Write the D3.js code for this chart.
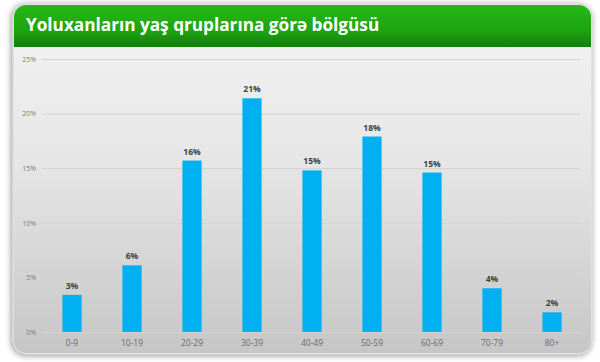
<!DOCTYPE html>
<html>
<head>
<meta charset="utf-8">
<script src="https://cdn.jsdelivr.net/npm/d3@7"></script>
<style>
body { margin: 0; background: #fff; }
svg { display: block; }
</style>
</head>
<body>
<svg id="chart" width="600" height="362"></svg>
<script>
var title = 'Yoluxanların yaş qruplarına görə bölgüsü';
var age_groups = ['0-9', '10-19', '20-29', '30-39', '40-49', '50-59', '60-69', '70-79', '80+'];
var shares = [3.4, 6.1, 15.7, 21.4, 14.8, 17.9, 14.6, 4.0, 1.8];
var share_labels = ['3%', '6%', '16%', '21%', '15%', '18%', '15%', '4%', '2%'];
var y_ticks = [0, 5, 10, 15, 20, 25];

var svg = d3.select('#chart');
var defs = svg.append('defs');

var shadow = defs.append('filter').attr('id', 'shadow')
	.attr('x', '-10%').attr('y', '-10%').attr('width', '120%').attr('height', '120%');
shadow.append('feGaussianBlur').attr('in', 'SourceAlpha').attr('stdDeviation', 3);
shadow.append('feOffset').attr('dx', -1).attr('dy', 1).attr('result', 'blur');
shadow.append('feComponentTransfer').append('feFuncA').attr('type', 'linear').attr('slope', 0.45);
var merge = shadow.append('feMerge');
merge.append('feMergeNode');
merge.append('feMergeNode').attr('in', 'SourceGraphic');

var bg = defs.append('linearGradient').attr('id', 'bg').attr('x1', 0).attr('y1', 0).attr('x2', 0).attr('y2', 1);
bg.append('stop').attr('offset', '0%').attr('stop-color', '#f4f4f4');
bg.append('stop').attr('offset', '45%').attr('stop-color', '#e6e6e6');
bg.append('stop').attr('offset', '100%').attr('stop-color', '#c6c6c6');

var head = defs.append('linearGradient').attr('id', 'head').attr('x1', 0).attr('y1', 0).attr('x2', 0).attr('y2', 1);
head.append('stop').attr('offset', '0%').attr('stop-color', '#27b815');
head.append('stop').attr('offset', '60%').attr('stop-color', '#1ea511');
head.append('stop').attr('offset', '100%').attr('stop-color', '#137f0b');

defs.append('clipPath').attr('id', 'panel_clip')
	.append('rect').attr('x', 14).attr('y', 5).attr('width', 577).attr('height', 348).attr('rx', 12);

// panel
svg.append('rect')
	.attr('x', 13).attr('y', 4).attr('width', 579).attr('height', 350).attr('rx', 13)
	.attr('fill', '#f2f2f2').attr('stroke', '#d0d0d0').attr('stroke-width', 1)
	.attr('filter', 'url(#shadow)');

var panel = svg.append('g').attr('clip-path', 'url(#panel_clip)');
panel.append('rect').attr('x', 14).attr('y', 5).attr('width', 577).attr('height', 348).attr('fill', 'url(#bg)');
panel.append('rect').attr('x', 14).attr('y', 5).attr('width', 577).attr('height', 42).attr('fill', 'url(#head)');

svg.append('text')
	.attr('x', 26).attr('y', 31)
	.attr('fill', '#fff')
	.attr('font-family', 'Open Sans, sans-serif')
	.attr('font-weight', 'bold')
	.attr('font-size', 17.2)
	.text(title);

var x = d3.scaleBand().domain(age_groups).range([42, 582]).paddingInner(0.68).paddingOuter(0.34);
var y = d3.scaleLinear().domain([0, 25]).range([332, 59]);

// gridlines
svg.append('g')
	.selectAll('line')
	.data(y_ticks)
	.enter()
	.append('line')
		.attr('x1', 42).attr('x2', 580)
		.attr('y1', function(d) { return y(d) + 0.5; })
		.attr('y2', function(d) { return y(d) + 0.5; })
		.attr('stroke', '#d2d2d2').attr('stroke-width', 1);

var y_axis = svg.append('g')
	.attr('transform', 'translate(36,0)')
	.call(d3.axisLeft(y).tickValues(y_ticks).tickSize(0).tickPadding(0).tickFormat(function(d) { return d + '%'; }));
y_axis.select('.domain').remove();
y_axis.selectAll('text')
	.attr('fill', '#7a7a7a')
	.attr('font-family', 'Open Sans, sans-serif')
	.attr('font-size', 7);

svg.append('g')
	.selectAll('rect')
	.data(shares)
	.enter()
	.append('rect')
		.attr('x', function(d, i) { return x(age_groups[i]); })
		.attr('y', function(d) { return y(d); })
		.attr('width', x.bandwidth())
		.attr('height', function(d) { return y(0) - y(d); })
		.attr('fill', '#00b0f0');

svg.append('g')
	.selectAll('text')
	.data(shares)
	.enter()
	.append('text')
		.attr('x', function(d, i) { return x(age_groups[i]) + x.bandwidth() / 2; })
		.attr('y', function(d) { return y(d) - 6; })
		.attr('text-anchor', 'middle')
		.attr('fill', '#404040')
		.attr('font-family', 'Open Sans, sans-serif')
		.attr('font-weight', 'bold')
		.attr('font-size', 8.5)
		.text(function(d, i) { return share_labels[i]; });

var x_axis = svg.append('g')
	.attr('transform', 'translate(0,' + 338 + ')')
	.call(d3.axisBottom(x).tickSize(0).tickPadding(0));
x_axis.select('.domain').remove();
x_axis.selectAll('text')
	.attr('dy', '0.9em')
	.attr('fill', '#6a6a6a')
	.attr('font-family', 'Open Sans, sans-serif')
	.attr('font-size', 8.5);
</script>
</body>
</html>
